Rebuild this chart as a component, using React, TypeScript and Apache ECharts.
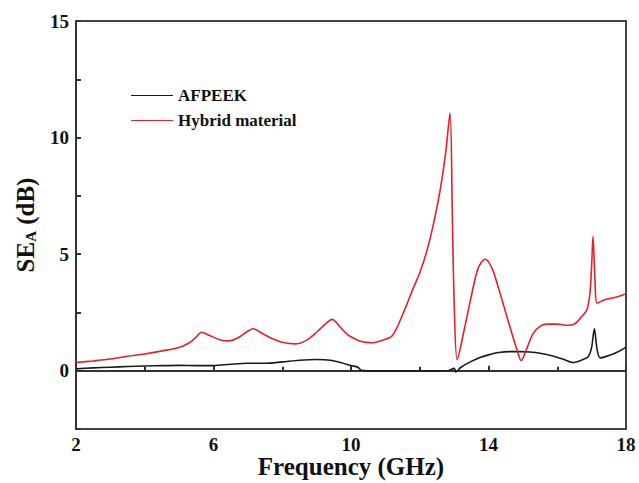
import React, { useEffect, useRef } from "react";
import * as echarts from "echarts";

const seriesNames = ["AFPEEK", "Hybrid material"];
const xTicks = [2, 6, 10, 14, 18];
const yTicks = [0, 5, 10, 15];

const freqBlack = [2.0, 2.5, 3.0, 3.5, 4.0, 4.5, 5.0, 5.5, 6.0, 6.5, 7.0, 7.5, 8.0, 8.5, 9.0, 9.4, 9.7, 10.0, 10.2, 10.3, 10.5, 11.0, 12.0, 12.8, 13.0, 13.05, 13.2, 13.5, 13.75, 14.0, 14.3, 14.6, 14.9, 15.2, 15.5, 15.9, 16.2, 16.46, 16.7, 16.9, 17.0, 17.08, 17.16, 17.25, 17.5, 17.75, 18.0];
const seBlack = [0.08, 0.12, 0.15, 0.18, 0.2, 0.22, 0.23, 0.22, 0.22, 0.28, 0.32, 0.32, 0.38, 0.45, 0.48, 0.45, 0.35, 0.22, 0.15, 0.02, 0.0, 0.0, 0.0, 0.0, 0.1, -0.05, 0.15, 0.4, 0.57, 0.68, 0.78, 0.82, 0.82, 0.8, 0.75, 0.62, 0.48, 0.35, 0.45, 0.6, 1.0, 1.8, 0.9, 0.55, 0.65, 0.8, 1.0];

const freqRed = [2.0, 2.5, 3.0, 3.5, 4.0, 4.5, 5.0, 5.3, 5.5, 5.65, 5.9, 6.2, 6.45, 6.7, 6.95, 7.15, 7.4, 7.7, 8.0, 8.4, 8.7, 9.0, 9.25, 9.45, 9.7, 9.9, 10.1, 10.3, 10.6, 10.9, 11.2, 11.5, 11.8, 12.0, 12.2, 12.4, 12.6, 12.75, 12.88, 12.95, 13.0, 13.09, 13.3, 13.5, 13.7, 13.9, 14.1, 14.3, 14.5, 14.7, 14.85, 14.95, 15.1, 15.3, 15.5, 15.7, 16.0, 16.3, 16.5, 16.7, 16.86, 16.95, 17.0, 17.04, 17.1, 17.16, 17.4, 17.7, 18.0];
const seRed = [0.35, 0.42, 0.5, 0.62, 0.72, 0.85, 1.0, 1.2, 1.45, 1.65, 1.5, 1.32, 1.28, 1.4, 1.65, 1.8, 1.62, 1.38, 1.22, 1.15, 1.3, 1.65, 2.0, 2.2, 1.85, 1.55, 1.38, 1.25, 1.2, 1.3, 1.5, 2.4, 3.5, 4.2, 5.1, 6.3, 7.8, 9.3, 11.05, 6.5, 3.0, 0.47, 1.8, 3.2, 4.4, 4.78, 4.4, 3.5, 2.5, 1.5, 0.8, 0.43, 0.9, 1.6, 1.9, 2.0, 2.0, 1.95, 2.0, 2.3, 2.6, 3.3, 4.5, 5.75, 3.8, 2.9, 3.05, 3.15, 3.3];

const font = "'Liberation Serif', 'DejaVu Serif', serif";

export default function App() {
  const ref = useRef<HTMLDivElement>(null);
  useEffect(() => {
    const chart = echarts.init(ref.current!, null, { renderer: "svg" });
    const pair = (xs: number[], ys: number[]) => xs.map((x, i) => [x, ys[i]]);
    chart.setOption({
      animation: false,
      backgroundColor: "#fff",
      grid: {
        left: 76,
        right: 13,
        top: 21,
        bottom: 54,
        containLabel: false,
        outerBoundsMode: "none",
        show: true,
        borderColor: "#444",
        borderWidth: 2,
      },
      legend: {
        orient: "vertical",
        left: 126,
        top: 82,
        itemWidth: 42,
        itemHeight: 10,
        itemGap: 8,
        icon: "path://M0,5 L42,5 L42,6 L0,6 Z",
        textStyle: { fontFamily: font, fontWeight: "bold", fontSize: 17, color: "#111" },
        data: seriesNames,
      },
      xAxis: {
        type: "value",
        min: 2,
        max: 18,
        interval: 4,
        name: "Frequency (GHz)",
        nameLocation: "middle",
        nameGap: 25,
        nameMoveOverlap: false,
        nameTextStyle: { fontFamily: font, fontWeight: "bold", fontSize: 25, color: "#111" },
        axisLine: { show: true, lineStyle: { color: "#333", width: 2 } },
        axisTick: { show: true, inside: true, length: 5, lineStyle: { color: "#333", width: 2 } },
        minorTick: { show: true, splitNumber: 2, length: 4, lineStyle: { color: "#333", width: 2 } },
        axisLabel: {
          fontFamily: font,
          fontWeight: "bold",
          fontSize: 19,
          color: "#111",
          margin: 6,
          formatter: (v: number) => (xTicks.includes(v) ? String(v) : ""),
        },
        splitLine: { show: false },
      },
      yAxis: {
        type: "value",
        min: -2.5,
        max: 15,
        interval: 2.5,
        name: "SE{sub|A} (dB)",
        nameLocation: "middle",
        nameGap: 38,
        nameMoveOverlap: false,
        nameRotate: 90,
        nameTextStyle: {
          fontFamily: font,
          fontWeight: "bold",
          fontSize: 25,
          color: "#111",
          rich: {
            sub: { fontFamily: font, fontWeight: "bold", fontSize: 15, color: "#111", verticalAlign: "bottom", padding: [10, 0, 0, 0] },
          },
        },
        axisLine: { show: true, lineStyle: { color: "#333", width: 2 } },
        axisTick: { show: true, inside: true, length: 5, lineStyle: { color: "#333", width: 2 } },
        axisLabel: {
          fontFamily: font,
          fontWeight: "bold",
          fontSize: 19,
          color: "#111",
          margin: 7,
          formatter: (v: number) => (yTicks.includes(v) ? String(v) : ""),
        },
        splitLine: { show: false },
      },
      series: [
        {
          name: seriesNames[0],
          type: "line",
          data: pair(freqBlack, seBlack),
          showSymbol: false,
          symbol: "none",
          smooth: 0.3,
          itemStyle: { color: "#1a1a1a" },
          lineStyle: { color: "#1a1a1a", width: 1.6 },
        },
        {
          name: seriesNames[1],
          type: "line",
          data: pair(freqRed, seRed),
          showSymbol: false,
          symbol: "none",
          smooth: 0.3,
          itemStyle: { color: "#e3202b" },
          lineStyle: { color: "#e3202b", width: 1.6 },
        },
      ],
    });
    return () => chart.dispose();
  }, []);
  return <div ref={ref} style={{ position: "fixed", left: 0, top: 0, width: 639, height: 483 }} />;
}
